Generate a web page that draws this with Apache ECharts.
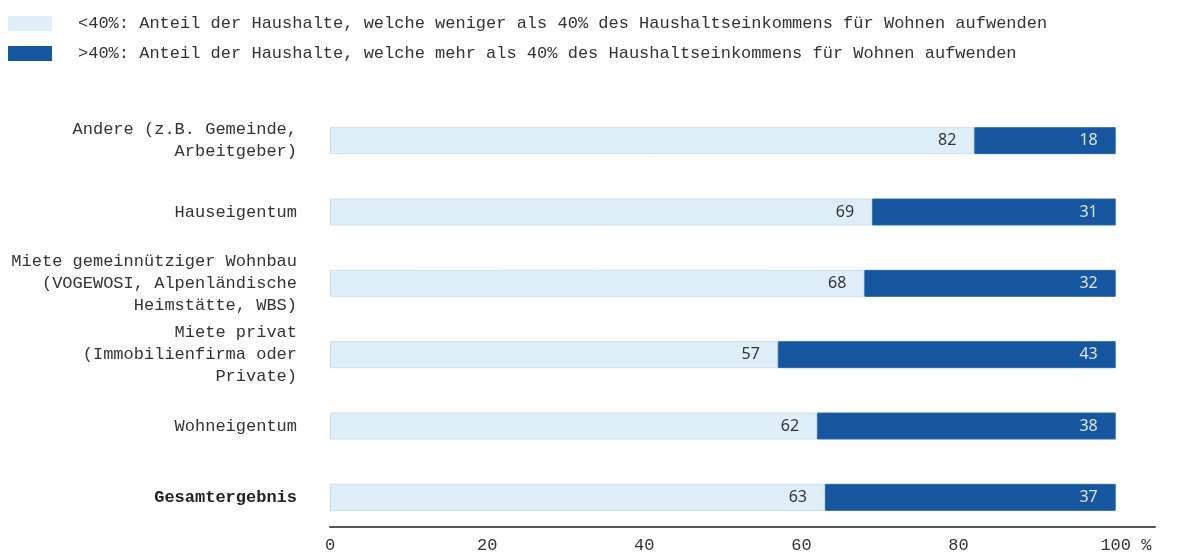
<!DOCTYPE html>
<html>
<head>
<meta charset="utf-8">
<script src="https://cdn.jsdelivr.net/npm/echarts@6/dist/echarts.min.js"></script>
<style>html,body{margin:0;padding:0;background:#fff}#c{width:1180px;height:559px}</style>
</head>
<body>
<div id="c"></div>
<script>
const categories = [
  "Andere (z.B. Gemeinde,\nArbeitgeber)",
  "Hauseigentum",
  "Miete gemeinnütziger Wohnbau\n(VOGEWOSI, Alpenländische\nHeimstätte, WBS)",
  "Miete privat\n(Immobilienfirma oder\nPrivate)",
  "Wohneigentum",
  "Gesamtergebnis"
];
const seriesNames = [
  "<40%: Anteil der Haushalte, welche weniger als 40% des Haushaltseinkommens für Wohnen aufwenden",
  ">40%: Anteil der Haushalte, welche mehr als 40% des Haushaltseinkommens für Wohnen aufwenden"
];
const below40 = [82, 69, 68, 57, 62, 63];
const above40 = [18, 31, 32, 43, 38, 37];
const xTicks = [0, 20, 40, 60, 80, 100];

const mono = "'Liberation Mono', 'DejaVu Sans Mono', monospace";
const sans = "'Noto Sans', 'Open Sans', sans-serif";

const chart = echarts.init(document.getElementById('c'));
chart.setOption({
  animation: false,
  legend: {
    orient: 'vertical',
    left: 8, top: 15, padding: 0,
    itemWidth: 44, itemHeight: 15, itemGap: 13,
    icon: 'rect',
    itemStyle: { borderWidth: 0 },
    textStyle: { fontFamily: mono, fontSize: 17, color: '#333', padding: [0, 0, 0, 21] },
    data: seriesNames
  },
  grid: { left: 330, right: 25, top: 105, bottom: 26 },
  xAxis: {
    type: 'value', min: 0, max: 105, interval: 20,
    offset: -6,
    axisLine: { show: true, lineStyle: { color: '#555', width: 2 } },
    axisTick: { show: false },
    splitLine: { show: false },
    axisLabel: {
      fontFamily: mono, fontSize: 17, color: '#333', margin: 10,
      formatter: v => xTicks.indexOf(v) < 0 ? '' : (v === 100 ? '\u00a0\u00a0100 %' : String(v))
    }
  },
  yAxis: {
    type: 'category', inverse: true, data: categories,
    axisLine: { show: false }, axisTick: { show: false },
    axisLabel: {
      margin: 33, fontFamily: mono, fontSize: 17, color: '#333', lineHeight: 22, align: 'right',
      formatter: v => v === 'Gesamtergebnis' ? '{b|' + v + '}' : v,
      rich: { b: { fontFamily: mono, fontSize: 17, fontWeight: 'bold', color: '#222' } }
    }
  },
  series: [
    {
      name: seriesNames[0], type: 'bar', stack: 's', barWidth: 27, data: below40,
      itemStyle: { color: '#dfeffa', borderColor: '#cddceb', borderWidth: 1 },
      label: { show: true, position: 'insideRight', distance: 18, fontFamily: sans, fontSize: 16, color: '#333' }
    },
    {
      name: seriesNames[1], type: 'bar', stack: 's', barWidth: 27, data: above40,
      itemStyle: { color: '#15569f', borderColor: '#2a66ab', borderWidth: 1 },
      label: { show: true, position: 'insideRight', distance: 18, fontFamily: sans, fontSize: 16, color: '#dce6f2' }
    }
  ]
});
</script>
</body>
</html>
